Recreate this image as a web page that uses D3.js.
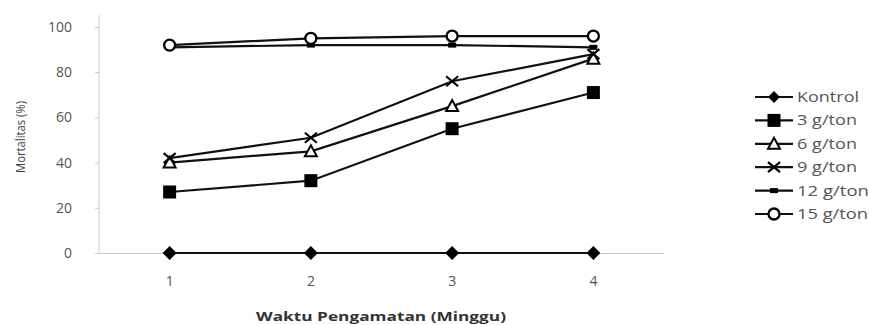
<!DOCTYPE html>
<html><head><meta charset="utf-8">
<script src="https://cdn.jsdelivr.net/npm/d3@7"></script>
<style>body{margin:0;background:#fff}svg{display:block}text{font-family:"Open Sans",Carlito,sans-serif}</style>
</head><body><svg id="c" width="869" height="325"></svg>
<script>
const weeks = ["1","2","3","4"];
const seriesNames = ["Kontrol","3 g/ton","6 g/ton","9 g/ton","12 g/ton","15 g/ton"];
const kontrol = [0,0,0,0];
const g3 = [27,32,55,71];
const g6 = [40,45,65,86];
const g9 = [42,51,76,88];
const g12 = [91,92,92,91];
const g15 = [92,95,96,96];
const yTicks = [0,20,40,60,80,100];
const markers = ["diamond","square","triangle","x","dash","circle"];
const seriesVals = [kontrol,g3,g6,g9,g12,g15];

const svg = d3.select("#c");
const x = d3.scaleBand().domain(weeks).range([99,664]);
const y = d3.scaleLinear().domain([0,100]).range([253,27]);
const cx = d => x(d)+x.bandwidth()/2;

// axes
const gy = svg.append("g").attr("transform","translate(99,0)")
  .call(d3.axisLeft(y).tickValues(yTicks).tickSize(4).tickPadding(23));
gy.select(".domain").attr("d","M0,15V253").attr("stroke","#c8c8c8");
gy.selectAll(".tick line").attr("stroke","#c8c8c8");
gy.selectAll("text").attr("fill","#555").style("font-size","14px");

const gx = svg.append("g").attr("transform","translate(0,253)")
  .call(d3.axisBottom(x).tickSize(0).tickPadding(23));
gx.select(".domain").attr("stroke","#c8c8c8");
gx.selectAll("text").attr("fill","#555").style("font-size","14px");

svg.append("text").attr("transform","translate(25,137) rotate(-90)")
  .attr("text-anchor","middle").attr("fill","#404040").style("font-size","12.5px")
  .attr("textLength",72).attr("lengthAdjust","spacingAndGlyphs").text("Mortalitas (%)");
svg.append("text").attr("x",381).attr("y",321).attr("text-anchor","middle")
  .attr("fill","#333").style("font-size","13px").style("font-weight","bold")
  .attr("textLength",250).attr("lengthAdjust","spacingAndGlyphs").text("Waktu Pengamatan (Minggu)");

function drawMarker(g, type, px, py, s){
  s = s || 1;
  if(type==="diamond"){
    const r = 7*s;
    g.append("path").attr("d",`M${px},${py-r}L${px+r},${py}L${px},${py+r}L${px-r},${py}Z`).attr("fill","#000");
  } else if(type==="square"){
    g.append("rect").attr("x",px-6.5).attr("y",py-6.5).attr("width",13).attr("height",13).attr("fill","#000");
  } else if(type==="triangle"){
    g.append("path").attr("d",`M${px},${py-6}L${px+6},${py+5}L${px-6},${py+5}Z`).attr("fill","#fff").attr("stroke","#000").attr("stroke-width",2);
  } else if(type==="x"){
    g.append("path").attr("d",`M${px-6},${py-5}L${px+6},${py+5}M${px+6},${py-5}L${px-6},${py+5}`).attr("stroke","#000").attr("stroke-width",2.2);
  } else if(type==="dash"){
    g.append("rect").attr("x",px-4).attr("y",py-2.5).attr("width",8).attr("height",5).attr("fill","#000");
  } else if(type==="circle"){
    g.append("circle").attr("cx",px).attr("cy",py).attr("r",5.5).attr("fill","#fff").attr("stroke","#000").attr("stroke-width",2.3);
  }
}

const line = d3.line().x((d,i)=>cx(weeks[i])).y(d=>y(d));
seriesVals.forEach((vals,si)=>{
  const g = svg.append("g");
  g.append("path").datum(vals).attr("d",line).attr("fill","none").attr("stroke","#111").attr("stroke-width",2.2);
  vals.forEach((v,i)=>drawMarker(g, markers[si], cx(weeks[i]), y(v)));
});

// legend
const legendWidths = [62,60,60,60,72,71];
const lg = svg.append("g");
seriesNames.forEach((name,i)=>{
  const ly = 97 + i*23.4;
  lg.append("line").attr("x1",755).attr("x2",793).attr("y1",ly).attr("y2",ly).attr("stroke","#111").attr("stroke-width",2.2);
  drawMarker(lg, markers[i], 774, ly, 0.85);
  lg.append("text").attr("x",797).attr("y",ly+5).attr("fill","#555").style("font-size","14px")
    .attr("textLength",legendWidths[i]).attr("lengthAdjust","spacingAndGlyphs").text(name);
});
</script></body></html>
